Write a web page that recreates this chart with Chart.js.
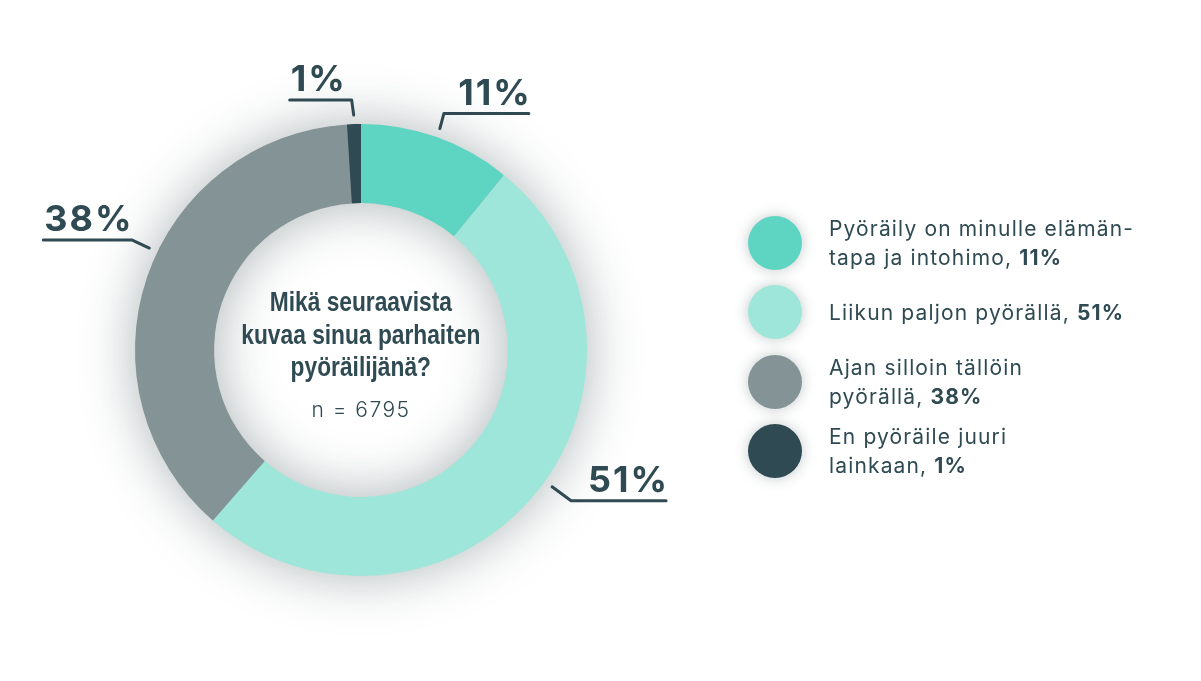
<!DOCTYPE html>
<html lang="fi">
<head>
<meta charset="utf-8">
<script src="https://cdn.jsdelivr.net/npm/chart.js@4"></script>
<style>
  html, body { margin: 0; padding: 0; background: #fff; }
  #wrap { position: relative; width: 1201px; height: 681px; overflow: hidden; }
  #chart { position: absolute; left: 0; top: 0; }
  #center { position: absolute; left: 161px; top: 286px; width: 400px; text-align: center; color: #2f4a52; }
  #center .q { display: inline-block; font-family: "Liberation Sans Narrow", "Liberation Sans", sans-serif; font-weight: bold; font-size: 27px; line-height: 32.5px; white-space: nowrap; transform-origin: 50% 0; }
  #center .n { font-family: Inter, "Noto Sans", sans-serif; font-weight: 300; font-size: 21px; letter-spacing: 1.5px; margin-top: 13px; }
  #legend { position: absolute; left: 748px; top: 208px; color: #2f4a52; font-family: Inter, "Noto Sans", sans-serif; }
  .item { display: flex; align-items: center; height: 69.5px; }
  .dot { width: 54px; height: 54px; border-radius: 50%; flex: none; box-shadow: 0 0 14px rgba(40,60,65,0.28); }
  .txt { margin-left: 27px; font-size: 21px; letter-spacing: 1.15px; line-height: 29px; white-space: nowrap; }
  .txt b { font-weight: 700; }
</style>
</head>
<body>
<div id="wrap">
  <canvas id="chart" width="1201" height="681"></canvas>
  <div id="center"></div>
  <div id="legend"></div>
</div>
<script>
// data
const categories = [
  ['Pyöräily on minulle elämän-', 'tapa ja intohimo'],
  ['Liikun paljon pyörällä'],
  ['Ajan silloin tällöin', 'pyörällä'],
  ['En pyöräile juuri', 'lainkaan']
];
const shares = [11, 51, 38, 1];
const colors = ['#5dd5c2', '#9ee6d9', '#839396', '#2f4a52'];
const questionLines = ['Mikä seuraavista', 'kuvaa sinua parhaiten', 'pyöräilijänä?'];
const sampleText = 'n = 6795';

const ink = '#2f4a52';

// center text
const center = document.getElementById('center');
center.innerHTML = '<div class="q">' + questionLines.join('<br>') + '</div><div class="n">' + sampleText + '</div>';
// squeeze the question into a condensed look (~239px wide)
const q = center.querySelector('.q');
const qw = q.getBoundingClientRect().width;
if (qw > 0) q.style.transform = 'scaleX(' + (239 / qw) + ')';

// legend
const legend = document.getElementById('legend');
categories.forEach((lines, i) => {
  const row = document.createElement('div');
  row.className = 'item';
  const last = lines.length - 1;
  const html = lines.map((l, j) => j === last ? l + ', <b>' + shares[i] + '%</b>' : l).join('<br>');
  row.innerHTML = '<div class="dot" style="background:' + colors[i] + '"></div><div class="txt">' + html + '</div>';
  legend.appendChild(row);
});

// soft shadow under the ring (outside and into the hole)
const ringShadow = {
  id: 'ringShadow',
  beforeDatasetsDraw(chart) {
    const arc = chart.getDatasetMeta(0).data[0];
    if (!arc) return;
    const { x, y, outerRadius, innerRadius } = arc.getProps(['x', 'y', 'outerRadius', 'innerRadius'], true);
    const ctx = chart.ctx;
    ctx.save();
    ctx.beginPath();
    ctx.arc(x, y, outerRadius - 1, 0, Math.PI * 2);
    ctx.arc(x, y, innerRadius + 1, 0, Math.PI * 2, true);
    ctx.shadowColor = 'rgba(35, 55, 60, 0.38)';
    ctx.shadowBlur = 55;
    ctx.fillStyle = '#8a9a9c';
    ctx.fill();
    ctx.restore();
  }
};

// percentage labels with elbow leader lines
// per slice: angle nudge (deg), elbow offset, horizontal run, text side
const labelLayout = [
  { nudge: 0,    ex: 4,   ey: -15, run: 85,  align: 'right' },
  { nudge: -4.5, ex: 19,  ey: 14,  run: 95,  align: 'right' },
  { nudge: 7,    ex: -17, ey: -8,  run: -89, align: 'left' },
  { nudge: 0,    ex: -2,  ey: -15, run: -62, align: 'left' }
];

const leaderLabels = {
  id: 'leaderLabels',
  afterDatasetsDraw(chart) {
    const ctx = chart.ctx;
    const meta = chart.getDatasetMeta(0);
    meta.data.forEach((arc, i) => {
      const p = arc.getProps(['x', 'y', 'startAngle', 'endAngle', 'outerRadius'], true);
      const L = labelLayout[i];
      const mid = (p.startAngle + p.endAngle) / 2 + L.nudge * Math.PI / 180;
      const r = p.outerRadius + 9;
      const ax = p.x + Math.cos(mid) * r;
      const ay = p.y + Math.sin(mid) * r;
      const bx = ax + L.ex, by = ay + L.ey;
      const cx = bx + L.run;
      ctx.save();
      ctx.strokeStyle = ink;
      ctx.lineWidth = 3;
      ctx.lineCap = 'round';
      ctx.lineJoin = 'round';
      ctx.beginPath();
      ctx.moveTo(ax, ay);
      ctx.lineTo(bx, by);
      ctx.lineTo(cx, by);
      ctx.stroke();
      ctx.fillStyle = ink;
      ctx.font = 'bold 36px Inter, "Noto Sans", sans-serif';
      ctx.letterSpacing = '2px';
      ctx.textBaseline = 'alphabetic';
      const txt = chart.data.datasets[0].data[i] + '%';
      if (L.align === 'right') {
        ctx.textAlign = 'right';
        ctx.fillText(txt, Math.max(bx, cx) + 3, by - 9);
      } else {
        ctx.textAlign = 'left';
        ctx.fillText(txt, Math.min(bx, cx) + 1, by - 9);
      }
      ctx.restore();
    });
  }
};

new Chart(document.getElementById('chart'), {
  type: 'doughnut',
  data: {
    labels: categories.map(l => l.join(' ')),
    datasets: [{
      data: shares,
      backgroundColor: colors,
      borderWidth: 0
    }]
  },
  options: {
    responsive: false,
    animation: false,
    cutout: '65%',
    layout: { padding: { left: 135, top: 124, right: 614, bottom: 105 } },
    plugins: {
      legend: { display: false },
      tooltip: { enabled: false }
    }
  },
  plugins: [ringShadow, leaderLabels]
});
</script>
</body>
</html>
